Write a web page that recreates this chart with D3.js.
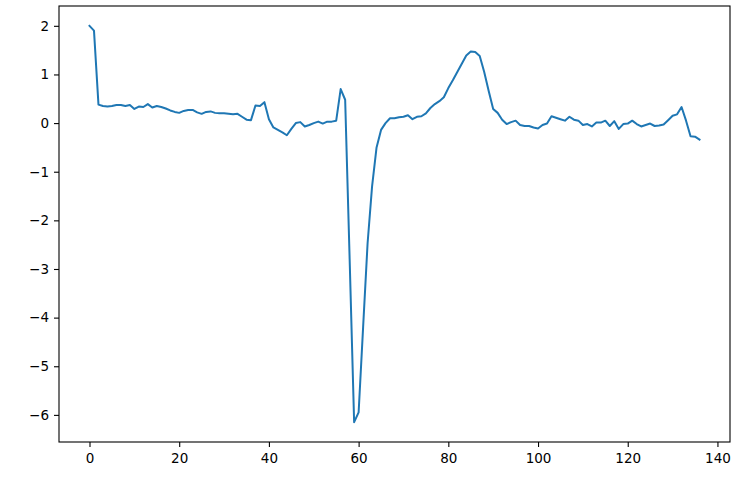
<!DOCTYPE html>
<html>
<head>
<meta charset="utf-8">
<script src="https://cdn.jsdelivr.net/npm/d3@7"></script>
<style>
  body { margin: 0; background: #fff; }
  svg { display: block; }
  .tick text { font-family: "DejaVu Sans", sans-serif; font-size: 13.5px; fill: #000; }
  .tick line { stroke: #000; stroke-width: 1.1; }
  .domain { display: none; }
</style>
</head>
<body>
<div id="chart"></div>
<script>
// signal values, sampled at x = 0,1,2,...
var values = [
  2.0, 1.9, 0.38, 0.35, 0.34, 0.35, 0.37, 0.37, 0.35, 0.37,
  0.29, 0.34, 0.33, 0.39, 0.32, 0.35, 0.33, 0.30, 0.26, 0.23,
  0.21, 0.25, 0.27, 0.27, 0.22, 0.19, 0.23, 0.24, 0.21, 0.20,
  0.20, 0.19, 0.18, 0.19, 0.13, 0.07, 0.06, 0.36, 0.35, 0.43,
  0.08, -0.09, -0.14, -0.19, -0.25, -0.12, 0.0, 0.02, -0.07, -0.04,
  0.0, 0.03, -0.01, 0.03, 0.03, 0.05, 0.70, 0.48, -2.8, -6.15,
  -5.95, -4.2, -2.47, -1.3, -0.5, -0.14, 0.0, 0.1, 0.1, 0.12,
  0.13, 0.16, 0.08, 0.13, 0.14, 0.2, 0.31, 0.39, 0.45, 0.53,
  0.72, 0.88, 1.05, 1.22, 1.39, 1.47, 1.46, 1.38, 1.05, 0.66,
  0.29, 0.21, 0.07, -0.02, 0.02, 0.05, -0.04, -0.06, -0.06, -0.09,
  -0.11, -0.04, -0.01, 0.14, 0.11, 0.08, 0.05, 0.13, 0.07, 0.05,
  -0.04, -0.02, -0.07, 0.01, 0.01, 0.05, -0.06, 0.04, -0.12, -0.02,
  -0.01, 0.05, -0.02, -0.07, -0.04, -0.01, -0.06, -0.05, -0.03, 0.06,
  0.15, 0.18, 0.33, 0.05, -0.27, -0.28, -0.34
];
var xTicks = [0, 20, 40, 60, 80, 100, 120, 140];
var yTicks = [-6, -5, -4, -3, -2, -1, 0, 1, 2];

var width = 739, height = 495;
var plotLeft = 59, plotRight = 730, plotTop = 6, plotBottom = 442;

var svg = d3.select("#chart").append("svg")
    .attr("width", width)
    .attr("height", height);

// matplotlib-style 5% margins
var xExt = [0, values.length - 1];
var xPad = (xExt[1] - xExt[0]) * 0.05;
var yExt = d3.extent(values);
var yPad = (yExt[1] - yExt[0]) * 0.05;

var x = d3.scaleLinear()
    .domain([xExt[0] - xPad, xExt[1] + xPad])
    .range([plotLeft, plotRight]);

var y = d3.scaleLinear()
    .domain([yExt[0] - yPad, yExt[1] + yPad])
    .range([plotBottom, plotTop]);

var fmt = function(d) { return d < 0 ? "\u2212" + Math.abs(d) : String(d); };

svg.append("g")
    .attr("transform", "translate(0," + plotBottom + ")")
    .call(d3.axisBottom(x).tickValues(xTicks).tickSize(5).tickPadding(5).tickFormat(fmt))
    .selectAll("text").attr("dy", "0.85em");

svg.append("g")
    .attr("transform", "translate(" + plotLeft + ",0)")
    .call(d3.axisLeft(y).tickValues(yTicks).tickSize(5).tickPadding(5).tickFormat(fmt));

var line = d3.line()
    .x(function(d, i) { return x(i); })
    .y(function(d) { return y(d); });

svg.append("path")
    .datum(values)
    .attr("fill", "none")
    .attr("stroke", "#1f77b4")
    .attr("stroke-width", 2)
    .attr("stroke-linejoin", "round")
    .attr("stroke-linecap", "square")
    .attr("d", line);

svg.append("rect")
    .attr("x", plotLeft)
    .attr("y", plotTop)
    .attr("width", plotRight - plotLeft)
    .attr("height", plotBottom - plotTop)
    .attr("fill", "none")
    .attr("stroke", "#000")
    .attr("stroke-width", 1.1);
</script>
</body>
</html>
